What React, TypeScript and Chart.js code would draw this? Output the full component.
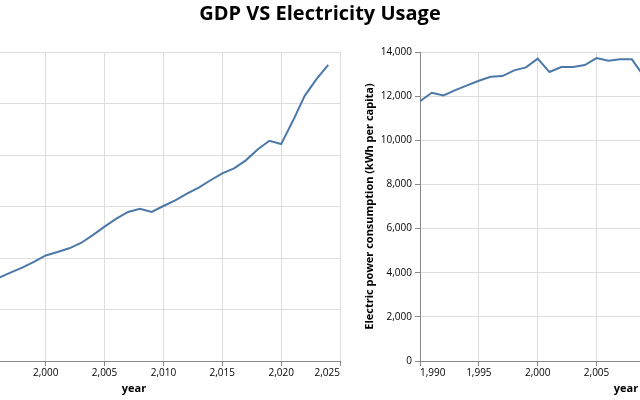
import React, { useEffect, useRef } from "react";
import { Chart, registerables } from "chart.js";

Chart.register(...registerables);

// Calendar years shared by both panels
const years = [
  1990, 1991, 1992, 1993, 1994, 1995, 1996, 1997, 1998, 1999,
  2000, 2001, 2002, 2003, 2004, 2005, 2006, 2007, 2008, 2009,
  2010, 2011, 2012, 2013, 2014, 2015, 2016, 2017, 2018, 2019,
  2020, 2021, 2022, 2023, 2024,
];

// GDP (current US$, trillions), one value per year above
const gdpTrillions = [
  5.96, 6.16, 6.52, 6.86, 7.29, 7.64, 8.07, 8.58, 9.06, 9.63,
  10.25, 10.58, 10.94, 11.46, 12.22, 13.04, 13.82, 14.47, 14.77, 14.48,
  15.05, 15.6, 16.25, 16.84, 17.55, 18.21, 18.7, 19.48, 20.53, 21.38,
  21.06, 23.32, 25.74, 27.36, 28.75,
];

// Electric power consumption (kWh per capita), 1990–2014
const electricityYears = [
  1990, 1991, 1992, 1993, 1994, 1995, 1996, 1997, 1998, 1999,
  2000, 2001, 2002, 2003, 2004, 2005, 2006, 2007, 2008, 2009,
  2010, 2011, 2012, 2013, 2014,
];
const electricityKwh = [
  11775, 12154, 12032, 12274, 12486, 12698, 12880, 12910, 13168, 13304,
  13697, 13092, 13319, 13319, 13410, 13727, 13606, 13667, 13667, 12914,
  13395, 13246, 12954, 12985, 12994,
];

const YEAR_MIN = 1990;
const YEAR_MAX = 2025;
const YEAR_STEP = 5;
const GDP_MAX = 30;
const GDP_STEP = 5;
const KWH_MAX = 14000;
const KWH_STEP = 2000;

const TITLE = "GDP VS Electricity Usage";
const FONT = '"Open Sans", "Noto Sans", sans-serif';
const LINE_COLOR = "#4c78a8";
const GRID_COLOR = "#ddd";
const DOMAIN_COLOR = "#888";

const fmt = (v: number) => v.toLocaleString("en-US");

// x labels with the first and last label flush to the ends of the axis
const flushXLabels = {
  id: "flushXLabels",
  afterDraw(chart: any) {
    const scale = chart.scales.x;
    const ctx = chart.ctx;
    const ticks = scale.ticks;
    ctx.save();
    ctx.font = `10px ${FONT}`;
    ctx.fillStyle = "#000";
    ctx.textBaseline = "top";
    ticks.forEach((t: any, i: number) => {
      const px = scale.getPixelForValue(t.value);
      ctx.textAlign = i === 0 ? "left" : i === ticks.length - 1 ? "right" : "center";
      ctx.fillText(fmt(t.value), px, scale.top + 7);
    });
    ctx.restore();
  },
};

function makeConfig(
  xs: number[],
  ys: number[],
  yMax: number,
  yStep: number,
  yTitle: string,
  yAxisWidth: number,
  padRight: number
): any {
  return {
    type: "line",
    data: {
      datasets: [
        {
          data: xs.map((x, i) => ({ x, y: ys[i] })),
          borderColor: LINE_COLOR,
          borderWidth: 2,
          pointRadius: 0,
          tension: 0,
          fill: false,
        },
      ],
    },
    options: {
      responsive: false,
      animation: false,
      devicePixelRatio: 1,
      layout: { padding: { top: 52, right: padRight, bottom: 0, left: 0 } },
      plugins: {
        legend: { display: false },
        tooltip: { enabled: false },
        title: { display: false },
      },
      scales: {
        x: {
          type: "linear",
          min: YEAR_MIN,
          max: YEAR_MAX,
          ticks: { stepSize: YEAR_STEP, display: false },
          grid: { color: GRID_COLOR, tickColor: DOMAIN_COLOR, tickLength: 5, drawTicks: true },
          border: { color: DOMAIN_COLOR, width: 1 },
          title: {
            display: true,
            text: "year",
            color: "#000",
            font: { family: FONT, size: 11, weight: "bold" },
            padding: { top: 0, bottom: 5 },
          },
          afterFit: (s: any) => {
            s.height = 39;
          },
        },
        y: {
          type: "linear",
          min: 0,
          max: yMax,
          ticks: {
            stepSize: yStep,
            color: "#000",
            padding: 3,
            font: { family: FONT, size: 10 },
            callback: (v: any) => fmt(Number(v)),
          },
          grid: { color: GRID_COLOR, tickColor: DOMAIN_COLOR, tickLength: 5, drawTicks: true },
          border: { color: DOMAIN_COLOR, width: 1 },
          title: {
            display: true,
            text: yTitle,
            color: "#000",
            font: { family: FONT, size: 11, weight: "bold" },
            padding: { top: 23, bottom: 0 },
          },
          afterFit: (s: any) => {
            s.width = yAxisWidth;
          },
        },
      },
    },
    plugins: [flushXLabels],
  };
}

function LineCanvas({ config, left }: { config: () => any; left: number }) {
  const ref = useRef<HTMLCanvasElement | null>(null);
  useEffect(() => {
    if (!ref.current) return;
    const chart = new Chart(ref.current, config());
    return () => chart.destroy();
  }, []);
  return (
    <canvas
      ref={ref}
      width={500}
      height={400}
      style={{ position: "absolute", left, top: 0, width: 500, height: 400 }}
    />
  );
}

export default function App() {
  return (
    <div
      style={{
        position: "absolute",
        left: 0,
        top: 0,
        width: 640,
        height: 400,
        overflow: "hidden",
        background: "#fff",
      }}
    >
      <LineCanvas
        left={-150}
        config={() =>
          makeConfig(years, gdpTrillions, GDP_MAX, GDP_STEP, "GDP (current US$, trillions)", 78, 10)
        }
      />
      <LineCanvas
        left={340}
        config={() =>
          makeConfig(
            electricityYears,
            electricityKwh,
            KWH_MAX,
            KWH_STEP,
            "Electric power consumption (kWh per capita)",
            80,
            8
          )
        }
      />
      <div
        style={{
          position: "absolute",
          left: 0,
          top: -1,
          width: 640,
          height: 28,
          lineHeight: "28px",
          textAlign: "center",
          fontFamily: FONT,
          fontWeight: "bold",
          fontSize: 20,
          color: "#000",
        }}
      >
        {TITLE}
      </div>
    </div>
  );
}
